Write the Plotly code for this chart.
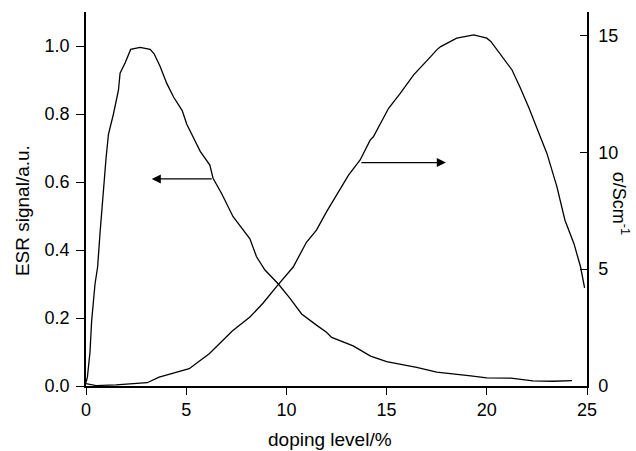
import plotly.graph_objects as go

# ESR signal (left axis, arbitrary units) vs doping level
esr_x = [0, 0.07, 0.2, 0.28, 0.45, 0.58, 0.7, 0.87, 1.0, 1.12, 1.37, 1.62, 1.7, 1.95,
         2.12, 2.23, 2.7, 3.2, 3.4, 3.7, 4.03, 4.37, 4.8, 5.03, 5.45, 5.7, 6.18, 6.34,
         6.76, 7.34, 8.18, 8.51, 8.93, 9.1, 9.6, 10.18, 10.76, 11.5, 12.0, 12.26, 12.6,
         13.33, 14.2, 15.0, 16.5, 17.5, 19.2, 20.0, 21.2, 22.3, 23.3, 24.25]
esr_y = [0.01, 0.026, 0.10, 0.19, 0.30, 0.35, 0.45, 0.585, 0.67, 0.74, 0.80, 0.87, 0.92,
         0.95, 0.977, 0.99, 0.996, 0.99, 0.977, 0.94, 0.89, 0.85, 0.81, 0.77, 0.72, 0.69,
         0.65, 0.611, 0.567, 0.498, 0.433, 0.38, 0.341, 0.331, 0.300, 0.258, 0.212, 0.179,
         0.158, 0.143, 0.135, 0.118, 0.088, 0.072, 0.055, 0.041, 0.030, 0.024, 0.023,
         0.015, 0.014, 0.016]

# Conductivity sigma (right axis, S/cm) vs doping level
cond_x = [0, 0.5, 1.5, 2.3, 3.05, 3.65, 4.4, 5.15, 6.15, 7.3, 8.18, 8.84, 9.6, 10.34,
          11.0, 11.5, 12.0, 12.5, 13.1, 13.68, 14.18, 14.34, 15.1, 15.68, 16.35, 17.2,
          17.5, 17.7, 18.5, 19.35, 20.0, 20.2, 20.5, 20.7, 21.26, 21.68, 22.1, 22.6,
          23.0, 23.5, 23.9, 24.35, 24.68, 24.88]
cond_y = [0.1, 0.02, 0.05, 0.1, 0.14, 0.38, 0.56, 0.74, 1.38, 2.35, 2.95, 3.55, 4.35,
          5.09, 6.15, 6.67, 7.45, 8.15, 9.02, 9.67, 10.52, 10.66, 11.88, 12.52, 13.31,
          14.09, 14.38, 14.52, 14.88, 15.02, 14.88, 14.74, 14.38, 14.17, 13.52, 12.74,
          11.9, 10.81, 9.95, 8.52, 7.09, 6.09, 5.09, 4.2]

x_ticks = [0, 5, 10, 15, 20, 25]
esr_ticks = [0.0, 0.2, 0.4, 0.6, 0.8, 1.0]
cond_ticks = [0, 5, 10, 15]

FONT = "Liberation Sans, Arial, sans-serif"
LINE = dict(color="black", width=1.3)

fig = go.Figure()
fig.add_trace(go.Scatter(x=esr_x, y=esr_y, mode="lines", line=LINE, yaxis="y"))
fig.add_trace(go.Scatter(x=cond_x, y=cond_y, mode="lines", line=LINE, yaxis="y2"))

axis_common = dict(showgrid=False, zeroline=False, showline=True, linecolor="black",
                   linewidth=1.5, tickcolor="black", tickwidth=1.3,
                   tickfont=dict(family=FONT, size=18, color="black"))

fig.update_layout(
    width=636, height=451,
    margin=dict(l=86, r=49, t=12, b=65),
    paper_bgcolor="white", plot_bgcolor="white",
    showlegend=False,
    font=dict(family=FONT, color="black"),
    xaxis=dict(range=[0, 25], tickvals=x_ticks, ticks="outside", ticklen=7,
               **axis_common),
    yaxis=dict(range=[0, 1.1], tickvals=esr_ticks, tickformat=".1f", ticks="outside",
               ticklen=8, ticklabelstandoff=3, **axis_common),
    yaxis2=dict(range=[0, 16], tickvals=cond_ticks, overlaying="y", side="right",
                ticks="inside", ticklen=7, ticklabelstandoff=6, **axis_common),
)

title_font = dict(family=FONT, size=19, color="black")
fig.add_annotation(text="doping level/%", xref="paper", yref="paper", x=0.4875,
                   y=-0.144, xanchor="center", yanchor="middle", showarrow=False,
                   font=title_font)
fig.add_annotation(text="ESR signal/a.u.", xref="paper", yref="paper", x=-0.128,
                   y=0.47, xanchor="center", yanchor="middle", showarrow=False,
                   textangle=-90, font=title_font)
fig.add_annotation(text="σ/Scm<sup>-1</sup>", xref="paper", yref="paper", x=1.066,
                   y=0.49, xanchor="center", yanchor="middle", showarrow=False,
                   textangle=90, font=dict(family=FONT, size=18, color="black"))

# arrows pointing each curve to its axis
fig.add_annotation(x=3.28, y=0.609, ax=6.35, ay=0.609, xref="x", yref="y",
                   axref="x", ayref="y", text="", showarrow=True, arrowhead=2,
                   arrowsize=1.4, arrowwidth=1.3, arrowcolor="black", standoff=0)
fig.add_annotation(x=17.96, y=9.56, ax=13.67, ay=9.56, xref="x", yref="y2",
                   axref="x", ayref="y2", text="", showarrow=True, arrowhead=2,
                   arrowsize=1.4, arrowwidth=1.3, arrowcolor="black", standoff=0)

fig.write_html("out.html")
